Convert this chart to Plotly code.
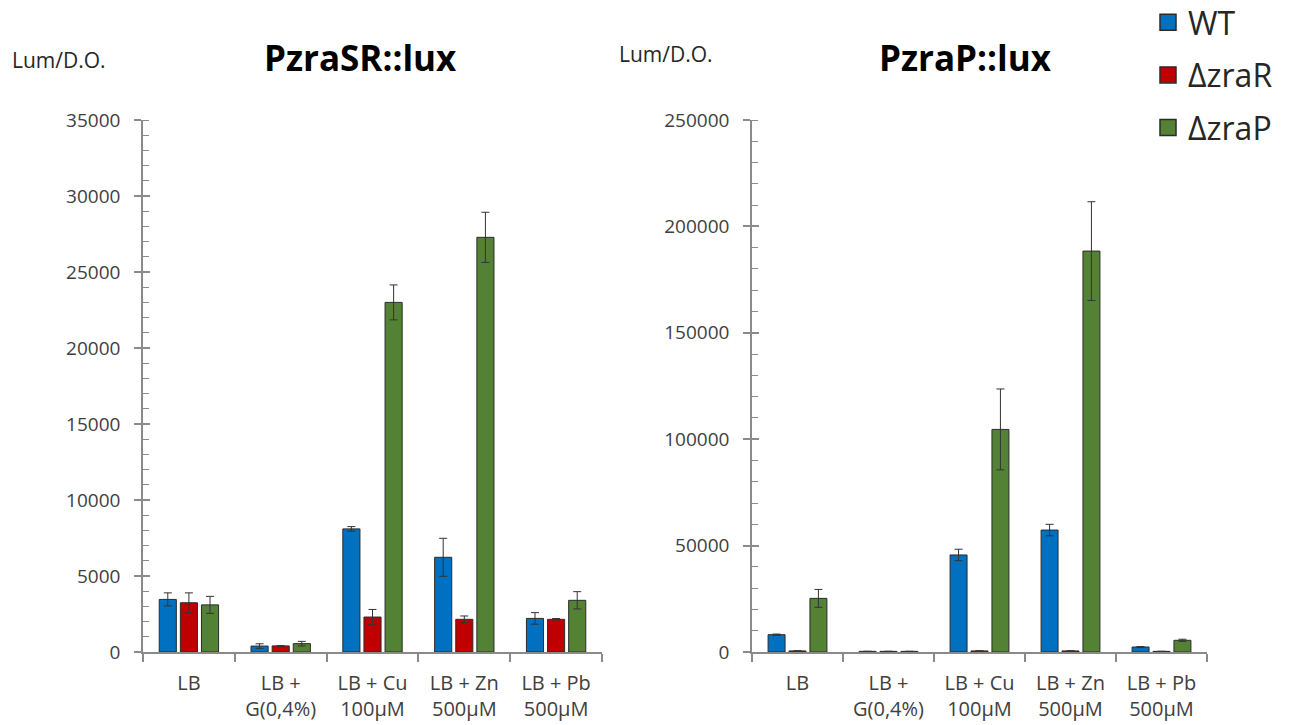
import plotly.graph_objects as go

categories = ["LB", "LB +<br>G(0,4%)", "LB + Cu<br>100µM", "LB + Zn<br>500µM", "LB + Pb<br>500µM"]
series_names = ["WT", "ΔzraR", "ΔzraP"]
colors = ["#0070C0", "#C00000", "#548235"]

# PzraSR::lux
sr_wt = [3460, 390, 8100, 6230, 2210]
sr_wt_err = [430, 150, 150, 1250, 380]
sr_zrar = [3240, 400, 2300, 2150, 2150]
sr_zrar_err = [650, 20, 500, 220, 50]
sr_zrap = [3100, 550, 23000, 27280, 3400]
sr_zrap_err = [560, 150, 1150, 1650, 570]

# PzraP::lux
p_wt = [8130, 300, 45600, 57300, 2350]
p_wt_err = [300, 50, 2700, 2700, 200]
p_zrar = [500, 300, 500, 500, 300]
p_zrar_err = [50, 50, 50, 50, 50]
p_zrap = [25200, 300, 104600, 188400, 5500]
p_zrap_err = [4200, 50, 19000, 23200, 500]

W, H = 1289, 725
fig = go.Figure()

left = [(sr_wt, sr_wt_err), (sr_zrar, sr_zrar_err), (sr_zrap, sr_zrap_err)]
right = [(p_wt, p_wt_err), (p_zrar, p_zrar_err), (p_zrap, p_zrap_err)]

edge = "#2b2b2b"
for i, (vals, errs) in enumerate(left):
    fig.add_trace(go.Bar(
        x=categories, y=vals, name=series_names[i], xaxis="x", yaxis="y",
        marker=dict(color=colors[i], line=dict(color=edge, width=1)),
        error_y=dict(type="data", array=errs, visible=True, color="#333333", thickness=1, width=4),
        showlegend=False,
    ))
for i, (vals, errs) in enumerate(right):
    fig.add_trace(go.Bar(
        x=categories, y=vals, name=series_names[i], xaxis="x2", yaxis="y2",
        marker=dict(color=colors[i], line=dict(color=edge, width=1)),
        error_y=dict(type="data", array=errs, visible=True, color="#333333", thickness=1, width=4),
        showlegend=False,
    ))
# legend entries (square swatches)
for i, name in enumerate(series_names):
    fig.add_trace(go.Scatter(
        x=[None], y=[None], mode="markers", name=name, xaxis="x", yaxis="y",
        marker=dict(symbol="square", size=17, color=colors[i], line=dict(color=edge, width=1.5)),
        legendgroup=name, showlegend=True, hoverinfo="skip",
    ))

axcol = "#8a8a8a"

def xaxis(domain, anchor):
    return dict(domain=domain, anchor=anchor, type="category", showgrid=False,
                showline=True, linecolor=axcol, linewidth=1.5, ticks="outside",
                tickson="boundaries", ticklen=8, tickcolor=axcol, tickwidth=1.5,
                tickfont=dict(family="Open Sans", size=20, color="#404040"),
                ticklabelstandoff=12, automargin=False, fixedrange=True)

def yaxis(anchor, rng, dt, minor_dt):
    return dict(domain=[1 - 652 / H, 1 - 120 / H], anchor=anchor, range=rng, dtick=dt, tick0=0,
                showgrid=False, zeroline=False, showline=True, linecolor=axcol, linewidth=1.5,
                ticks="outside", ticklen=7, tickcolor=axcol, tickwidth=1.5,
                tickfont=dict(family="Open Sans", size=19, color="#404040"),
                ticklabelstandoff=10, automargin=False,
                minor=dict(dtick=minor_dt, ticks="inside", ticklen=6, tickcolor=axcol, tickwidth=1.2),
                tickformat="d")

def overlay(base, anchor, rng, dt):
    return dict(overlaying=base, anchor=anchor, range=rng, dtick=dt, tick0=0, showgrid=False,
                zeroline=False, showline=False, ticks="inside", ticklen=7, tickcolor=axcol,
                tickwidth=1.5, showticklabels=False, side="left")

def ann(text, px, py, size, color, bold=False):
    return dict(text=f"<b>{text}</b>" if bold else text, x=px / W, y=1 - py / H,
                xref="paper", yref="paper", xanchor="center", yanchor="middle", showarrow=False,
                font=dict(family="Open Sans", size=size, color=color))

fig.update_layout(
    width=W, height=H,
    margin=dict(l=0, r=0, t=0, b=0, autoexpand=False),
    paper_bgcolor="white", plot_bgcolor="white",
    barmode="group", bargap=0.31, bargroupgap=0.19,
    font=dict(family="Open Sans", color="#404040"),
    xaxis=xaxis([143 / W, 602 / W], "y"),
    yaxis=yaxis("x", [0, 35000], 5000, 1000),
    xaxis2=xaxis([752 / W, 1207 / W], "y2"),
    yaxis2=yaxis("x2", [0, 250000], 50000, 10000),
    yaxis3=overlay("y", "x", [0, 35000], 5000),
    yaxis4=overlay("y2", "x2", [0, 250000], 50000),
    legend=dict(x=1148 / W, y=1 + 5 / H, xanchor="left", yanchor="top",
                font=dict(family="Open Sans", size=32, color="#262626"),
                tracegroupgap=8, bgcolor="rgba(0,0,0,0)", itemwidth=30, itemsizing="trace"),
    annotations=[
        ann("PzraSR::lux", 360, 58, 35, "#000000", bold=True),
        ann("PzraP::lux", 965, 57, 35, "#000000", bold=True),
        ann("Lum/D.O.", 59, 60, 21, "#262626"),
        ann("Lum/D.O.", 666, 54, 21, "#262626"),
    ],
)

# dummy traces for overlay axes ticks
fig.add_trace(go.Scatter(x=[None], y=[None], xaxis="x", yaxis="y3", showlegend=False, hoverinfo="skip"))
fig.add_trace(go.Scatter(x=[None], y=[None], xaxis="x2", yaxis="y4", showlegend=False, hoverinfo="skip"))

fig.write_html("out.html", config={"displayModeBar": False},
               post_script="document.body.style.margin='0';document.body.style.overflow='hidden';")
